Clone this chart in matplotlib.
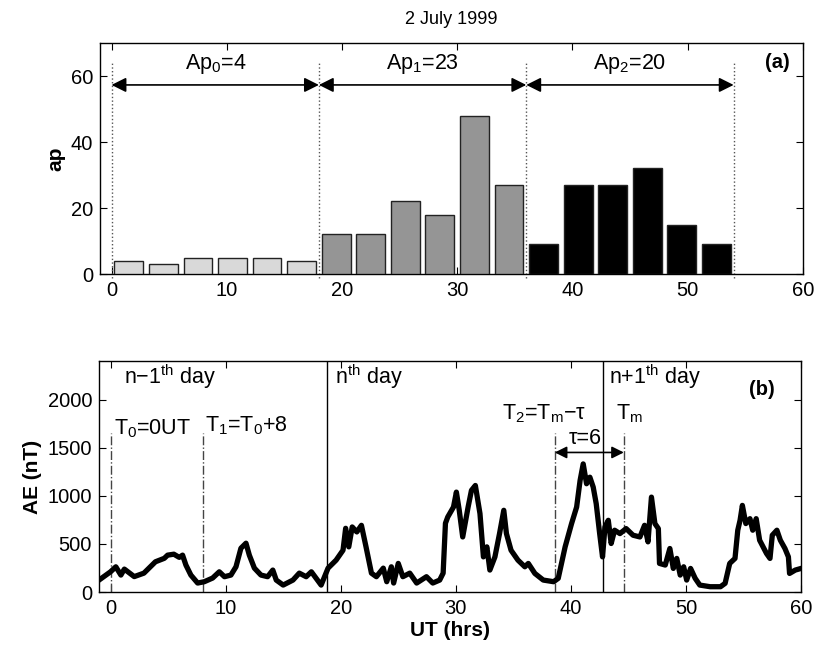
import numpy as np
import matplotlib
matplotlib.use('Agg')
import matplotlib.pyplot as plt

plt.rcParams['font.family'] = ['Liberation Sans', 'DejaVu Sans']
plt.rcParams['mathtext.fontset'] = 'custom'
plt.rcParams['mathtext.rm'] = 'Liberation Sans'
plt.rcParams['mathtext.it'] = 'Liberation Sans:italic'
plt.rcParams['mathtext.bf'] = 'Liberation Sans:bold'

# panel (a): 3-hourly ap index
ap_hours = [1.5, 4.5, 7.5, 10.5, 13.5, 16.5,
            19.5, 22.5, 25.5, 28.5, 31.5, 34.5,
            37.5, 40.5, 43.5, 46.5, 49.5, 52.5]
ap_values = [4, 3, 5, 5, 5, 4,
             12, 12, 22, 18, 48, 27,
             9, 27, 27, 32, 15, 9]
ap_day = [0] * 6 + [1] * 6 + [2] * 6
day_colors = ['#d9d9d9', '#959595', '#000000']
ap_bounds = [0, 18, 36, 54]
ap_labels = [r'Ap$_0$=4', r'Ap$_1$=23', r'Ap$_2$=20']

# panel (b): AE index
ut = [-1.0, 0.0, 0.46, 0.9, 1.2, 2.06, 2.9, 3.9, 4.67, 4.96, 5.5, 5.97, 6.26,
      6.55, 6.98, 7.57, 8.15, 8.87, 9.45, 9.9, 10.46, 10.9, 11.33, 11.77,
      12.06, 12.5, 13.07, 13.65, 14.1, 14.4, 15.0, 15.85, 16.4, 17.0, 17.45,
      18.3, 18.9, 19.6, 20.2, 20.43, 20.7, 21.0, 21.4, 21.8, 22.2, 22.67,
      23.1, 23.7, 24.0, 24.4, 24.6, 25.0, 25.4, 26.0, 26.6, 27.45, 28.0,
      28.6, 28.9, 29.1, 29.3, 29.8, 30.05, 30.3, 30.6, 31.07, 31.36, 31.7,
      32.1, 32.4, 32.7, 32.96, 33.4, 33.8, 34.17, 34.4, 34.8, 35.4, 36.0,
      36.3, 36.87, 37.6, 38.5, 38.9, 39.5, 40.06, 40.5, 40.8, 41.07, 41.36,
      41.65, 41.94, 42.2, 42.5, 42.75, 42.96, 43.25, 43.5, 43.8, 44.26, 44.8,
      45.4, 46.0, 46.4, 46.7, 47.0, 47.3, 47.6, 47.7, 48.2, 48.6, 48.9, 49.2,
      49.5, 49.8, 50.06, 50.4, 50.8, 51.2, 52.1, 53.0, 53.4, 53.8, 54.26,
      54.5, 54.7, 54.9, 55.2, 55.56, 55.8, 56.1, 56.4, 57.0, 57.3, 57.5,
      57.9, 58.2, 58.6, 58.9, 59.0, 59.5, 60.0]
ae = [124, 210, 262, 176, 238, 160, 196, 314, 350, 383, 393, 360, 383,
      280, 176, 93, 107, 145, 210, 159, 176, 262, 455, 507,
      383, 248, 176, 159, 228, 124, 72, 124, 196, 159, 210,
      72, 248, 331, 434, 662, 469, 676, 624, 693, 469, 196,
      159, 248, 107, 262, 93, 297, 159, 196, 93, 159, 93,
      124, 196, 714, 779, 883, 1038, 849, 572, 883, 1056, 1107,
      815, 365, 469, 228, 365, 607, 849, 607, 434, 331, 262,
      297, 193, 124, 107, 142, 469, 711, 883, 1159, 1331, 1125,
      1193, 1090, 918, 607, 365, 676, 745, 504, 642, 607, 659,
      590, 572, 693, 521, 986, 711, 659, 297, 280, 452, 245, 349,
      176, 262, 124, 245, 142, 72, 55, 55, 90, 297, 349,
      642, 745, 900, 711, 762, 642, 762, 538, 400, 349, 590,
      642, 538, 452, 365, 193, 228, 245]

day_lines = [18.8, 42.8]
t_lines = [0, 8, 38.6, 44.6]

fs = 15.5
fig = plt.figure(figsize=(8.15, 6.47), dpi=100)
ax1 = fig.add_axes([0.1227, 0.5765, 0.8623, 0.357])
ax2 = fig.add_axes([0.1215, 0.085, 0.8614, 0.357])

for ax in (ax1, ax2):
    ax.tick_params(direction='in', top=True, right=True, labelsize=14.5,
                   length=5, width=0.8, pad=5)
    for s in ax.spines.values():
        s.set_linewidth(1.0)

# ---- (a)
cols = [day_colors[d] for d in ap_day]
ax1.bar(ap_hours, ap_values, width=2.5, color=cols, edgecolor='#222222',
        linewidth=1.0, zorder=3)
for b in ap_bounds:
    ax1.plot([b, b], [-1.3, 64], ls=':', color='#555555', lw=1.0,
             clip_on=False, zorder=2)
for i in range(3):
    ax1.annotate('', xy=(ap_bounds[i], 57.3), xytext=(ap_bounds[i + 1], 57.3),
                 arrowprops=dict(arrowstyle='<|-|>', color='black', lw=1.2,
                                 mutation_scale=22, shrinkA=0, shrinkB=0))
    ax1.text((ap_bounds[i] + ap_bounds[i + 1]) / 2, 63.5, ap_labels[i],
             ha='center', va='center', fontsize=fs)
ax1.text(57.8, 64, '(a)', ha='center', va='center', fontsize=14.5,
         fontweight='bold')
ax1.set_xlim(-1, 60)
ax1.set_ylim(0, 70)
ax1.set_xticks([0, 10, 20, 30, 40, 50, 60])
ax1.set_yticks([0, 20, 40, 60])
ax1.set_ylabel('ap', fontsize=15, fontweight='bold')
ax1.set_title('2 July 1999', fontsize=13, pad=14)

# ---- (b)
ax2.plot(ut, ae, color='black', lw=3.8, solid_joinstyle='round', zorder=3)
for d in day_lines:
    ax2.axvline(d, color='black', lw=1.0, zorder=2)
for t in t_lines:
    ax2.plot([t, t], [0, 1650], ls='-.', color='#444444', lw=1.0, zorder=2)
ax2.annotate('', xy=(t_lines[2], 1450), xytext=(t_lines[3], 1450),
             arrowprops=dict(arrowstyle='<|-|>', color='black', lw=1.2,
                             mutation_scale=18, shrinkA=0, shrinkB=0))
ax2.text(1.2, 2160, r'n$-$1$^{\rm th}$ day', fontsize=fs, va='baseline')
ax2.text(19.5, 2160, r'n$^{\rm th}$ day', fontsize=fs, va='baseline')
ax2.text(43.3, 2160, r'n+1$^{\rm th}$ day', fontsize=fs, va='baseline')
ax2.text(56.6, 2050, '(b)', ha='center', fontsize=14.5, fontweight='bold')
ax2.text(0.3, 1700, r'T$_0$=0UT', fontsize=fs, va='center')
ax2.text(8.2, 1730, r'T$_1$=T$_0$+8', fontsize=fs, va='center')
ax2.text(34.0, 1850, r'T$_2$=T$_{\rm m}$$-$τ', fontsize=fs, va='center')
ax2.text(43.9, 1850, r'T$_{\rm m}$', fontsize=fs, va='center')
ax2.text(41.2, 1590, 'τ=6', fontsize=fs, ha='center', va='center')
ax2.set_xlim(-1, 60)
ax2.set_ylim(0, 2400)
ax2.set_xticks([0, 10, 20, 30, 40, 50, 60])
ax2.set_yticks([0, 500, 1000, 1500, 2000])
ax2.set_ylabel('AE (nT)', fontsize=15, fontweight='bold')
ax2.set_xlabel('UT (hrs)', fontsize=15, fontweight='bold', labelpad=2)

fig.savefig('out.png', dpi=100)
